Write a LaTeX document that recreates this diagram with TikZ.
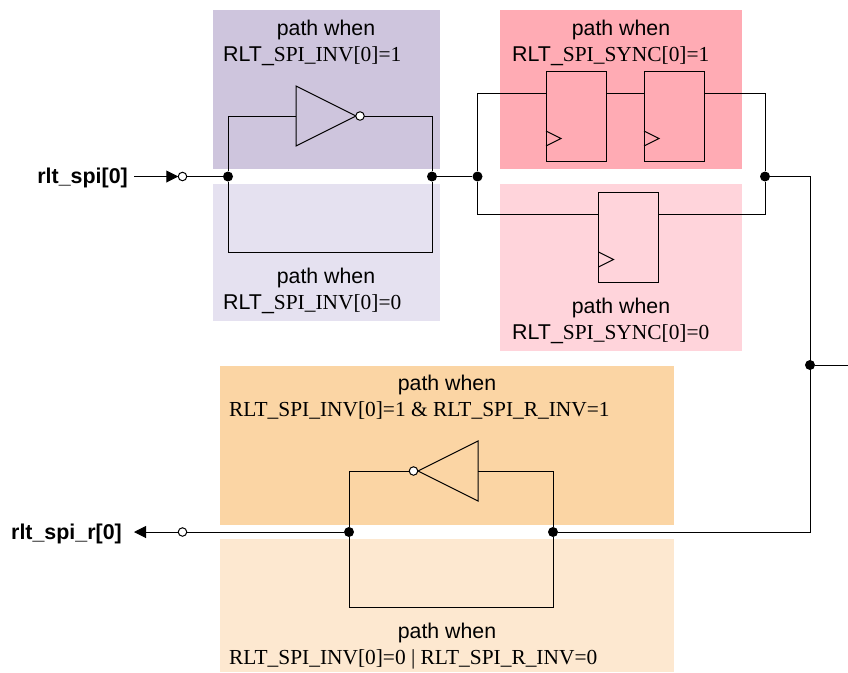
\documentclass[tikz,border=0pt]{standalone}
\usepackage{fontspec}
\setmainfont{Liberation Serif}
\setsansfont{Liberation Sans}
\usetikzlibrary{arrows.meta,shapes.geometric}
\definecolor{InvOne}{RGB}{206,197,221}
\definecolor{InvZero}{RGB}{229,225,240}
\definecolor{SyncOne}{RGB}{255,171,180}
\definecolor{SyncZero}{RGB}{255,212,219}
\definecolor{RInvOne}{RGB}{251,213,164}
\definecolor{RInvZero}{RGB}{253,232,208}
\tikzset{
    wire/.style={line width=1pt,black},
    junction/.style={circle,fill=black,inner sep=0pt,minimum size=10pt},
    bubble/.style={circle,draw=black,fill=white,line width=1pt,inner sep=0pt,minimum size=8.5pt,outer sep=0pt},
    flop/.style={rectangle,draw=black,line width=1pt,minimum width=60pt,minimum height=90pt,inner sep=0pt,outer sep=0pt},
    inverter/.style={isosceles triangle,isosceles triangle stretches,draw=black,line width=1pt,minimum width=60pt,minimum height=60pt,inner sep=0pt,outer sep=0pt},
    sanstxt/.style={font=\fontsize{21.3}{25}\selectfont\sffamily,text=black,inner sep=0pt},
    condtxt/.style={font=\fontsize{21.4}{25}\selectfont\rmfamily,text=black,inner sep=0pt,anchor=west},
    portlbl/.style={font=\fontsize{21.4}{25}\selectfont\sffamily\bfseries,text=black,inner sep=0pt,anchor=east},
}
\newcommand{\clkmark}[1]{\draw[wire] (#1.south west)++(0,-15) -- ++(15,-7.5) -- ++(-15,-7.5);}
\begin{document}
\begin{tikzpicture}[x=1pt,y=-1pt]
    \useasboundingbox (0,0) rectangle (848,672);
%   coloured path areas
    \fill[InvOne] (213,10) rectangle (440,169);
    \fill[InvZero] (213,184) rectangle (440,321);
    \fill[SyncOne] (500,10) rectangle (742,169);
    \fill[SyncZero] (500,184) rectangle (742,351);
    \fill[RInvOne] (220,366) rectangle (674,525);
    \fill[RInvZero] (220,539) rectangle (674,672);

%   labels
    \node[sanstxt] (invhititle) at (326,30) {path when};
    \node[condtxt] (invhicond) at (223,56) {{\sffamily RLT\_}SPI\_INV[0]=1};
    \node[sanstxt] (invlotitle) at (326,278) {path when};
    \node[condtxt] (invlocond) at (223,304) {{\sffamily RLT\_}SPI\_INV[0]=0};
    \node[sanstxt] (synchititle) at (621,30) {path when};
    \node[condtxt] (synchicond) at (512,56) {{\sffamily RLT\_}SPI\_SYNC[0]=1};
    \node[sanstxt] (synclotitle) at (621,308) {path when};
    \node[condtxt] (synclocond) at (512,334) {{\sffamily RLT\_}SPI\_SYNC[0]=0};
    \node[sanstxt] (rinvhititle) at (447,385) {path when};
    \node[condtxt] (rinvhicond) at (229,411) {RLT\_SPI\_INV[0]=1 \& RLT\_SPI\_R\_INV=1};
    \node[sanstxt] (rinvlotitle) at (447,633) {path when};
    \node[condtxt] (rinvlocond) at (229,659) {RLT\_SPI\_INV[0]=0 | RLT\_SPI\_R\_INV=0};
    \node[portlbl] (inlbl) at (128,178) {rlt\_spi[0]};
    \node[portlbl] (outlbl) at (122,533.5) {rlt\_spi\_r[0]};

%   parts
    \node[inverter,anchor=apex] (invone) at (356,116) {};
    \node[bubble] (invonebub) at (360,116) {};
    \node[inverter,shape border rotate=180,anchor=apex] (invtwo) at (418,471) {};
    \node[bubble] (invtwobub) at (413.5,471) {};
    \node[flop] (ffa) at (576,116) {};
    \node[flop] (ffb) at (674,116) {};
    \node[flop] (ffc) at (628.5,237) {};
    \clkmark{ffa}
    \clkmark{ffb}
    \clkmark{ffc}
    \node[bubble] (inbub) at (182.5,176.5) {};
    \node[bubble] (outbub) at (182.5,532) {};
    \node[junction] (ja) at (228,176.5) {};
    \node[junction] (jb) at (432,176.5) {};
    \node[junction] (jc) at (477.5,176.5) {};
    \node[junction] (jd) at (765,176.5) {};
    \node[junction] (je) at (810,365) {};
    \node[junction] (jf) at (553,532) {};
    \node[junction] (jg) at (349,532) {};

    \coordinate (instart) at (134,176.5);
    \coordinate (outend) at (134,532);
    \coordinate (rightend) at (848,365);
    \coordinate (ffaleft) at (546,93);
    \coordinate (ffaright) at (606,93);
    \coordinate (ffbleft) at (644,93);
    \coordinate (ffbright) at (704,93);
    \coordinate (ffcleft) at (598.5,214);
    \coordinate (ffcright) at (658.5,214);

%   wires
    \draw[wire,arrows={-Stealth[length=12pt,width=12pt,inset=0pt]}] (instart) -- (inbub.west);
    \draw[wire] (inbub) -- (ja);
    \draw[wire] (ja) |- (invone.lower side);
    \draw[wire] (invonebub) -| (jb);
    \draw[wire] (ja) |- (228,252) -| (jb);
    \draw[wire] (jb) -- (jc);
    \draw[wire] (jc) |- (ffaleft);
    \draw[wire] (ffaright) -- (ffbleft);
    \draw[wire] (ffbright) -| (jd);
    \draw[wire] (jc) |- (ffcleft);
    \draw[wire] (ffcright) -| (jd);
    \draw[wire] (jd) -| (810,532) -- (jf);
    \draw[wire] (je) -- (rightend);
    \draw[wire] (jf) |- (invtwo.lower side);
    \draw[wire] (invtwobub) -| (jg);
    \draw[wire] (jf) |- (349,607.5) -| (jg);
    \draw[wire] (jg) -- (outbub);
    \draw[wire,arrows={-Stealth[length=12pt,width=12pt,inset=0pt]}] (outbub.west) -- (outend);
\end{tikzpicture}
\end{document}
